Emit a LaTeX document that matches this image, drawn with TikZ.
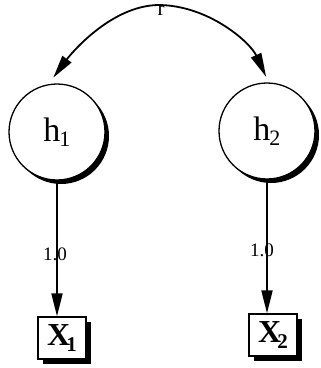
\documentclass[tikz,border=0pt]{standalone}
\usepackage{fontspec}
\setmainfont{Liberation Serif}
\usetikzlibrary{arrows.meta,shadows}
\begin{document}
\begin{tikzpicture}[x=1pt, y=-1pt,
    latent/.style={circle, draw, line width=1.3pt, fill=white, minimum size=96pt, inner sep=0pt,
        drop shadow={shadow xshift=4pt, shadow yshift=-4pt, fill=black, opacity=1},
        font=\fontsize{34}{36}\selectfont},
    manifest/.style={rectangle, draw, line width=1.3pt, fill=white, minimum width=48pt, minimum height=42pt, inner sep=0pt,
        drop shadow={shadow xshift=5pt, shadow yshift=-5pt, fill=black, opacity=1},
        font=\fontsize{32}{34}\selectfont\bfseries},
    load/.style={line width=1.8pt, -{Triangle[length=23pt, width=11pt]}},
    cov/.style={line width=1.8pt, {Triangle[length=23pt, width=11pt]}-{Triangle[length=24pt, width=11pt]}, shorten <=8pt, shorten >=6pt},
    lbl/.style={inner sep=0pt, font=\fontsize{19}{19}\selectfont}]
    \useasboundingbox (0,0) rectangle (321,368);

    % Latent variables
    \node[latent] (h1) at (57,132) {h\kern-1pt\raisebox{-5pt}{\fontsize{22}{22}\selectfont 1}};
    \node[latent] (h2) at (267,131) {h\kern-1pt\raisebox{-5pt}{\fontsize{22}{22}\selectfont 2}};

    % Indicators
    \node[manifest] (x1) at (62,338) {X\kern-4pt\raisebox{-6pt}{\fontsize{21}{21}\selectfont 1}};
    \node[manifest] (x2) at (273,335) {X\kern-4pt\raisebox{-6pt}{\fontsize{21}{21}\selectfont 2}};

    % Correlation
    \coordinate (top) at (158,5);
    \node[lbl, font=\fontsize{21}{21}\selectfont] (r) at (161,11) {r};
    \draw[cov] (h1.100) .. controls (70,55) and (110,6) .. (top)
        .. controls (208,5) and (250,42) .. (h2.88);

    % Loadings
    \draw[load] (h1) -- (h1 |- x1.north) node[lbl, pos=0.54, xshift=-2pt] {1.0};
    \draw[load] (h2) -- (h2 |- x2.north) node[lbl, pos=0.53, xshift=-5pt] {1.0};
\end{tikzpicture}
\end{document}
